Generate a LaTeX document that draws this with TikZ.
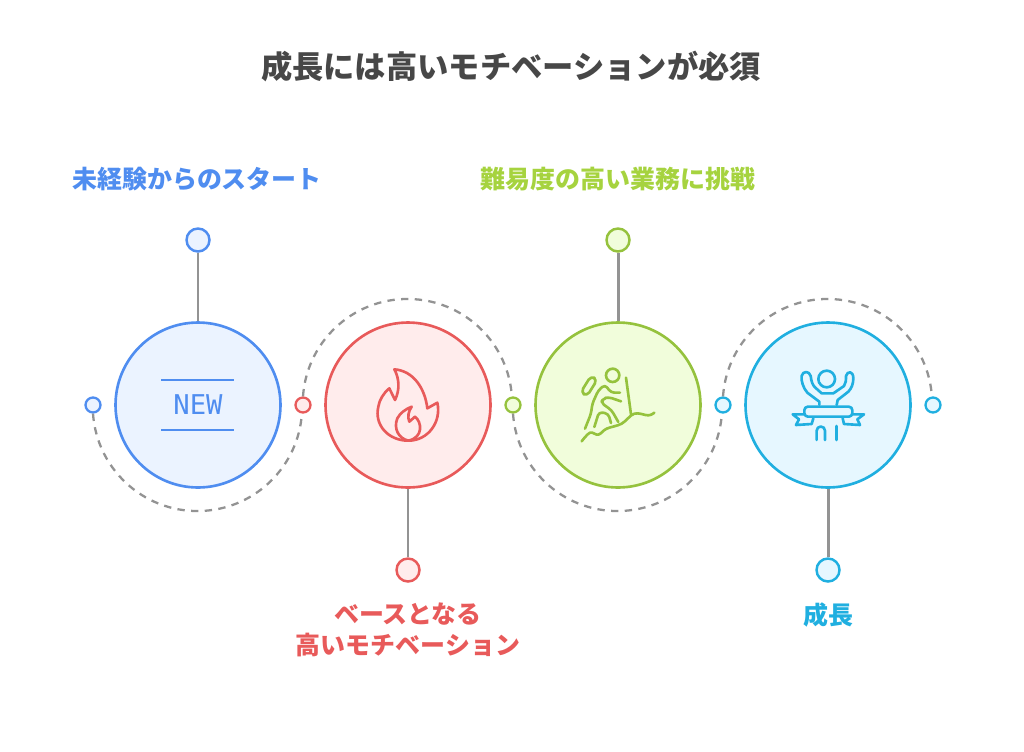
\documentclass[tikz,border=0pt]{standalone}
\usepackage{fontspec}
\setmainfont{Noto Sans CJK JP}
\newfontfamily\iconfont{DejaVu Sans Mono}
\definecolor{tblue}{HTML}{4F8DF0}
\definecolor{fblue}{HTML}{EBF3FF}
\definecolor{tred}{HTML}{E85A5A}
\definecolor{fred}{HTML}{FFECEC}
\definecolor{tgreen}{HTML}{A6D33F}
\definecolor{lgreen}{HTML}{95C23D}
\definecolor{fgreen}{HTML}{F1FDDB}
\definecolor{tcyan}{HTML}{20AFE0}
\definecolor{fcyan}{HTML}{E6F7FF}
\tikzset{
	big/.style={circle, draw=#1, line width=1.5pt, minimum size=3.3cm, inner sep=0pt},
	knob/.style={circle, draw=#1, line width=1.4pt, minimum size=0.46cm, inner sep=0pt},
	dot/.style={circle, draw=#1, line width=1.3pt, minimum size=0.3cm, inner sep=0pt},
	stem/.style={draw=gray!85, line width=1.7pt},
	swing/.style={draw=gray!85, line width=1.3pt, dash pattern=on 4.2pt off 3.6pt},
	lbl/.style={font=\bfseries\fontsize{14.2}{17.6}\selectfont, text=#1, align=center},
	icon/.style={draw=#1, line width=1.5pt, line cap=round, line join=round, x=0.006667cm, y=-0.006667cm},
}
\begin{document}
\begin{tikzpicture}[x=0.02cm, y=-0.02cm]
	\useasboundingbox (0,0) rectangle (1024,751);
	\node[font=\bfseries\fontsize{17.8}{20}\selectfont, text=black!72] (title) at (511,67) {成長には高いモチベーションが必須};

	\node[lbl=tblue] (lnew) at (197,179) {未経験からのスタート};
	\node[lbl=tred] (lbase) at (408,630) {ベースとなる\\高いモチベーション};
	\node[lbl=tgreen] (lhard) at (618,179) {難易度の高い業務に挑戦};
	\node[lbl=tcyan] (lgrow) at (828,615) {成長};

	\node[big=tblue, fill=fblue] (new) at (198,405) {};
	\node[big=tred, fill=fred] (base) at (408,405) {};
	\node[big=lgreen, fill=fgreen] (hard) at (618,405) {};
	\node[big=tcyan, fill=fcyan] (grow) at (828,405) {};

	\node[knob=tblue, fill=fblue] (pnew) at (198,240) {};
	\node[knob=tred, fill=fred] (pbase) at (408,570) {};
	\node[knob=lgreen, fill=fgreen] (phard) at (618,240) {};
	\node[knob=tcyan, fill=fcyan] (pgrow) at (828,570) {};

	\node[dot=tblue, fill=fblue] (d1) at (93,405) {};
	\node[dot=tred, fill=fred] (d2) at (303,405) {};
	\node[dot=lgreen, fill=fgreen] (d3) at (513,405) {};
	\node[dot=tcyan, fill=fcyan] (d4) at (723,405) {};
	\node[dot=tcyan, fill=fcyan] (d5) at (933,405) {};

	\draw[stem] (pnew) -- (new);
	\draw[stem] (base) -- (pbase);
	\draw[stem] (phard) -- (hard);
	\draw[stem] (grow) -- (pgrow);

	\draw[swing] (d1.south) arc[start angle=176, end angle=4, radius=104.7];
	\draw[swing] (d2.north) arc[start angle=184, end angle=356, radius=104.7];
	\draw[swing] (d3.south) arc[start angle=176, end angle=4, radius=104.7];
	\draw[swing] (d4.north) arc[start angle=184, end angle=356, radius=104.7];

	% new
	\node[font=\iconfont\fontsize{15.5}{18}\selectfont, text=tblue] (newtext) at (198,405) {NEW};
	\coordinate (a1) at (161,380);
	\coordinate (a2) at (234,380);
	\coordinate (b1) at (161,430);
	\coordinate (b2) at (234,430);
	\draw[draw=tblue, line width=1.5pt] (a1) -- (a2);
	\draw[draw=tblue, line width=1.5pt] (b1) -- (b2);

	% flame
	\begin{scope}[shift={(350,350)}, icon=tred]
		\draw (133,58) .. controls (190,62) and (225,115) .. (232,175) -- (262,158)
			.. controls (275,215) and (235,272) .. (175,272)
			.. controls (115,272) and (72,225) .. (85,170)
			.. controls (88,150) and (100,130) .. (118,115) -- (135,150)
			.. controls (150,120) and (148,85) .. (133,58) -- cycle;
		\draw (175,272) .. controls (145,265) and (130,235) .. (142,205)
			.. controls (150,190) and (165,178) .. (185,170)
			.. controls (175,185) and (172,200) .. (178,215)
			-- (195,200) .. controls (215,215) and (222,262) .. (175,272);
	\end{scope}

	% hiker
	\begin{scope}[shift={(560,350)}, icon=lgreen]
		\draw (158,76) circle[radius=20];
		\draw[rounded corners=2.5pt, rotate around={58:(87,108)}] (58,97) rectangle (116,119);
		\draw (198,83) -- (213,193);
		\draw plot[smooth, tension=0.6] coordinates {(65,274) (90,248) (115,254) (140,236) (185,221) (223,191) (265,196) (283,188)};
		\draw[rounded corners=2pt] (180,128) -- (153,128) -- (135,104) -- (115,121) -- (97,161) -- (93,191) -- (75,236);
		\draw[rounded corners=2pt] (183,154) -- (145,141) -- (130,146) -- (123,158) -- (155,181) -- (175,216);
		\draw[rounded corners=2pt] (103,231) -- (117,186) -- (145,191) -- (153,219);
	\end{scope}

	% ribbon
	\begin{scope}[shift={(770,350)}, icon=tcyan]
		\draw (170,87) circle[radius=25];
		\draw (148,165) -- (148,155) -- (112,128) .. controls (100,115) and (92,90) .. (95,78)
			.. controls (98,62) and (118,62) .. (122,78) .. controls (124,95) and (128,105) .. (135,112)
			-- (155,130) -- (190,130) -- (222,108) .. controls (228,100) and (228,90) .. (228,78)
			.. controls (232,62) and (250,62) .. (250,85) .. controls (250,100) and (245,115) .. (235,125)
			-- (203,150) -- (200,165);
		\draw[rounded corners=2pt] (103,170) rectangle (247,200);
		\draw (130,205) -- (125,222) -- (78,225) -- (87,208) -- (68,193) -- (103,193);
		\draw (218,205) -- (222,222) -- (270,225) -- (262,208) -- (282,193) -- (247,193);
		\draw (140,270) -- (140,242) arc[start angle=180, end angle=360, radius=12.5] -- (165,270);
		\draw (200,228) -- (200,270);
	\end{scope}
\end{tikzpicture}
\end{document}
